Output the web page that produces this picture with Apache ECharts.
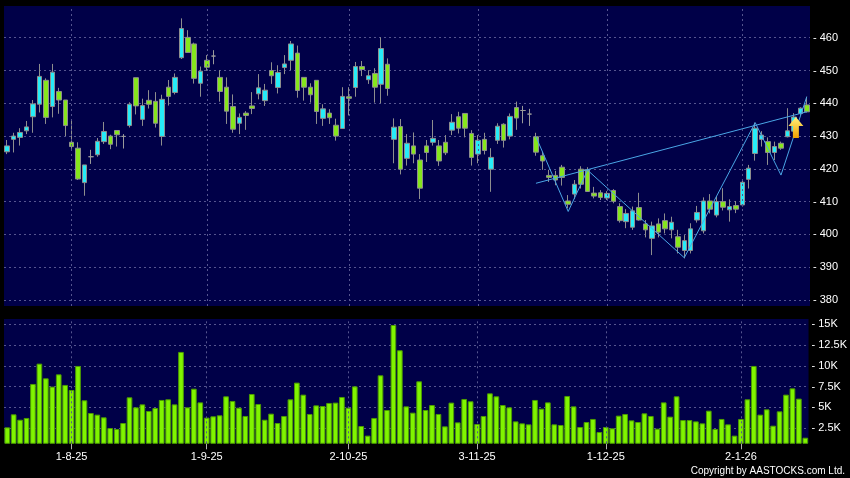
<!DOCTYPE html>
<html>
<head>
<meta charset="utf-8">
<script src="https://cdn.jsdelivr.net/npm/echarts@6/dist/echarts.min.js"></script>
<style>
  html, body { margin: 0; padding: 0; background: #000; }
  #main { width: 850px; height: 478px; }
</style>
</head>
<body>
<div id="main"></div>
<script>
// trading days, d-m-yy
var dates = [
  '18-7-25', '21-7-25', '22-7-25', '23-7-25', '24-7-25', '25-7-25', '28-7-25', '29-7-25', '30-7-25', '31-7-25',
  '1-8-25', '4-8-25', '5-8-25', '6-8-25', '7-8-25', '8-8-25', '11-8-25', '12-8-25', '13-8-25', '14-8-25',
  '15-8-25', '18-8-25', '19-8-25', '20-8-25', '21-8-25', '22-8-25', '25-8-25', '26-8-25', '27-8-25', '28-8-25',
  '29-8-25', '1-9-25', '2-9-25', '3-9-25', '4-9-25', '5-9-25', '8-9-25', '9-9-25', '10-9-25', '11-9-25',
  '12-9-25', '15-9-25', '16-9-25', '17-9-25', '18-9-25', '19-9-25', '22-9-25', '23-9-25', '24-9-25', '25-9-25',
  '26-9-25', '29-9-25', '30-9-25', '2-10-25', '3-10-25', '6-10-25', '8-10-25', '9-10-25', '10-10-25', '13-10-25',
  '14-10-25', '15-10-25', '16-10-25', '17-10-25', '20-10-25', '21-10-25', '22-10-25', '23-10-25', '24-10-25', '27-10-25',
  '28-10-25', '30-10-25', '31-10-25', '3-11-25', '4-11-25', '5-11-25', '6-11-25', '7-11-25', '10-11-25', '11-11-25',
  '12-11-25', '13-11-25', '14-11-25', '17-11-25', '18-11-25', '19-11-25', '20-11-25', '21-11-25', '24-11-25', '25-11-25',
  '26-11-25', '27-11-25', '28-11-25', '1-12-25', '2-12-25', '3-12-25', '4-12-25', '5-12-25', '8-12-25', '9-12-25',
  '10-12-25', '11-12-25', '12-12-25', '15-12-25', '16-12-25', '17-12-25', '18-12-25', '19-12-25', '22-12-25', '23-12-25',
  '24-12-25', '29-12-25', '30-12-25', '31-12-25', '2-1-26', '5-1-26', '6-1-26', '7-1-26', '8-1-26', '9-1-26',
  '12-1-26', '13-1-26', '14-1-26', '15-1-26', '16-1-26'
];

var open = [
  425.2, 429.0, 429.6, 431.6, 435.9, 439.7, 447.0, 439.0, 443.6, 441.0,
  428.1, 426.3, 415.8, 423.7, 424.3, 428.3, 430.0, 431.7, 429.9, 433.2,
  447.8, 435.1, 440.9, 440.6, 429.9, 444.9, 443.3, 453.9, 460.1, 458.1,
  446.1, 453.1, 454.4, 447.9, 444.9, 439.0, 433.9, 437.0, 439.2, 442.9,
  440.8, 450.0, 444.8, 450.9, 453.1, 455.3, 447.9, 444.9, 447.0, 435.4,
  437.0, 433.3, 432.3, 442.0, 444.8, 451.2, 447.2, 449.1, 445.8, 451.9,
  429.0, 432.9, 423.2, 427.0, 422.7, 427.0, 428.1, 427.0, 428.1, 431.8,
  435.9, 436.9, 430.8, 424.5, 429.0, 419.9, 428.7, 433.6, 430.0, 438.7,
  437.8, 436.7, 429.8, 424.0, 418.0, 418.0, 420.5, 410.2, 412.3, 419.9,
  419.7, 412.6, 412.7, 411.1, 413.4, 408.5, 403.9, 402.2, 408.2, 403.2,
  398.8, 403.2, 404.2, 401.4, 399.3, 395.1, 395.1, 404.4, 401.1, 410.2,
  405.9, 410.0, 407.5, 408.8, 409.0, 416.8, 424.7, 429.0, 428.3, 425.0,
  427.8, 429.8, 431.5, 436.9, 439.5
];
var close = [
  427.0, 430.0, 431.1, 432.8, 439.8, 448.2, 435.7, 449.5, 441.0, 433.2,
  426.8, 416.9, 421.2, 423.7, 428.4, 431.4, 427.5, 430.4, 429.9, 439.7,
  439.2, 439.3, 439.7, 433.9, 441.2, 442.1, 447.9, 462.8, 455.5, 447.6,
  449.8, 451.0, 454.4, 443.6, 437.6, 432.1, 435.7, 436.3, 438.4, 444.7,
  444.0, 448.4, 449.4, 452.0, 458.1, 443.9, 444.9, 442.6, 437.5, 438.3,
  435.6, 430.0, 442.1, 441.5, 451.2, 450.3, 448.4, 444.9, 456.7, 444.5,
  432.7, 419.9, 427.8, 424.5, 414.1, 425.0, 429.3, 422.4, 424.9, 434.2,
  432.4, 432.4, 423.5, 428.7, 425.6, 423.5, 433.0, 428.7, 436.0, 435.5,
  437.8, 436.7, 425.1, 422.4, 417.4, 416.6, 417.4, 409.2, 415.3, 415.3,
  413.1, 411.7, 411.3, 412.5, 410.1, 404.2, 406.4, 407.2, 404.4, 401.4,
  402.6, 400.7, 401.7, 403.7, 396.1, 398.1, 401.7, 406.7, 410.2, 407.7,
  410.0, 408.3, 408.5, 407.7, 415.9, 420.2, 432.4, 430.3, 425.0, 426.8,
  426.3, 431.6, 435.8, 438.5, 437.4
];
var low = [
  424.5, 425.0, 427.1, 430.6, 431.0, 437.2, 433.7, 435.7, 436.8, 430.0,
  426.1, 416.6, 411.8, 421.5, 423.7, 427.6, 426.0, 426.8, 426.2, 432.6,
  436.6, 433.1, 438.4, 432.6, 427.1, 439.3, 442.7, 453.5, 455.4, 446.0,
  442.0, 449.9, 451.9, 440.5, 433.7, 431.0, 430.6, 431.9, 436.7, 441.2,
  439.2, 445.9, 443.0, 448.9, 450.1, 441.7, 440.8, 440.2, 433.7, 433.1,
  433.7, 428.6, 432.3, 436.3, 442.0, 448.3, 445.9, 440.2, 440.0, 442.3,
  421.7, 418.3, 421.0, 421.7, 410.8, 422.1, 427.1, 420.9, 424.2, 430.3,
  430.8, 429.6, 421.0, 421.7, 424.4, 413.0, 427.6, 426.5, 429.0, 431.9,
  433.9, 433.1, 424.0, 419.7, 416.0, 415.0, 414.9, 408.0, 410.8, 414.0,
  413.1, 411.0, 410.5, 410.5, 409.5, 403.6, 401.9, 401.4, 404.2, 399.1,
  393.7, 399.1, 400.3, 398.8, 394.2, 392.7, 394.2, 403.6, 400.3, 406.4,
  405.2, 407.3, 403.9, 406.5, 408.5, 414.0, 422.5, 426.8, 421.2, 422.7,
  425.8, 429.6, 430.0, 436.4, 437.2
];
var high = [
  428.8, 431.0, 432.4, 434.6, 441.0, 452.0, 447.6, 452.0, 444.7, 441.0,
  435.2, 428.1, 421.2, 425.8, 429.4, 434.3, 430.4, 431.7, 430.6, 440.3,
  447.8, 441.4, 444.0, 443.4, 442.6, 447.1, 449.1, 465.9, 462.3, 458.5,
  451.2, 454.7, 456.2, 450.1, 447.9, 442.7, 436.9, 437.6, 443.4, 448.9,
  445.9, 452.5, 451.6, 454.7, 459.0, 457.6, 447.9, 446.1, 447.0, 439.7,
  438.2, 435.3, 444.9, 444.9, 452.6, 452.9, 450.1, 450.7, 460.1, 453.7,
  435.4, 435.2, 430.6, 431.1, 424.5, 428.8, 434.9, 428.8, 430.3, 436.7,
  437.4, 436.9, 431.8, 430.3, 431.0, 426.3, 433.9, 433.9, 436.9, 440.5,
  439.2, 438.3, 431.0, 425.2, 419.7, 419.4, 421.2, 412.0, 416.6, 420.8,
  420.5, 414.5, 413.5, 413.2, 413.8, 409.5, 407.7, 408.5, 412.7, 404.4,
  403.9, 404.9, 406.4, 405.4, 401.4, 399.8, 403.4, 408.7, 411.3, 412.3,
  411.7, 414.1, 410.7, 410.2, 416.6, 421.2, 434.1, 431.5, 429.6, 428.3,
  428.3, 438.5, 437.0, 438.8, 442.0
];
var volume = [
  2580, 4150, 3500, 3710, 7810, 10260, 8490, 7490, 8970, 7690,
  7080, 9980, 5840, 4310, 4110, 3790, 2500, 2380, 3100, 6200,
  4990, 5350, 4550, 4910, 5880, 5960, 5350, 11670, 4990, 7240,
  5590, 3750, 3910, 4030, 6320, 5760, 4950, 3950, 6600, 5390,
  3500, 4230, 3100, 3950, 5960, 7970, 6520, 4190, 5230, 5150,
  5520, 5560, 6240, 4950, 7520, 2740, 1580, 3710, 8850, 4670,
  14920, 11870, 5110, 4350, 8130, 4670, 5270, 4190, 2700, 5560,
  3180, 6000, 5720, 2980, 3950, 6680, 6320, 5270, 4990, 3300,
  3060, 2940, 5880, 4830, 5590, 2940, 2860, 6360, 5110, 2620,
  3220, 3590, 2020, 2620, 2460, 3990, 4190, 3420, 3220, 4270,
  3950, 2420, 5590, 3870, 6320, 3460, 3460, 3300, 3060, 4590,
  2380, 3590, 2940, 1580, 3590, 5960, 9980, 4110, 4750, 2780,
  4510, 6520, 7280, 6040, 1330
];

var tickLabels = ['1-8-25', '1-9-25', '2-10-25', '3-11-25', '1-12-25', '2-1-26'];
var priceTicks = [380, 390, 400, 410, 420, 430, 440, 450, 460];
var volTicks = [2500, 5000, 7500, 10000, 12500, 15000];

// pattern lines drawn by the site
var zigzag = [['14-11-25', 429.8], ['21-11-25', 407.0], ['26-11-25', 419.6], ['17-12-25', 392.9],
  ['6-1-26', 434.1], ['12-1-26', 418.1], ['16-1-26', 442.0]];
var neckline = [['14-11-25', 415.6], ['16-1-26', 437.4]];
var arrowAt = ['14-1-26', 432.6];

var chart = echarts.init(document.getElementById('main'));

var candles = dates.map(function (d, i) {
  return [open[i], close[i], low[i], high[i]];
});

var isTick = function (i, v) { return tickLabels.indexOf(v) >= 0; };
var dash = { color: '#55558f', type: [2, 3], width: 1 };
var vLines = {
  silent: true,
  symbol: ['none', 'none'],
  label: { show: false },
  lineStyle: dash,
  animation: false,
  data: tickLabels.map(function (t) { return { xAxis: t }; })
};
var txt = { color: '#ffffff', fontSize: 11, fontFamily: 'Liberation Sans, Arial, sans-serif' };

var option = {
  backgroundColor: '#000000',
  animation: false,
  grid: [
    { left: 4, right: 40, top: 6, height: 300, show: true, backgroundColor: '#000048', borderWidth: 0 },
    { left: 4, right: 40, top: 319, height: 124.3, show: true, backgroundColor: '#000048', borderWidth: 0 }
  ],
  xAxis: [
    {
      type: 'category', gridIndex: 0, data: dates, boundaryGap: true,
      axisLine: { show: false }, axisTick: { show: false }, axisLabel: { show: false }, splitLine: { show: false }
    },
    {
      type: 'category', gridIndex: 1, data: dates, boundaryGap: true,
      axisLine: { show: false },
      axisTick: { show: true, interval: isTick, alignWithLabel: true, length: 6, lineStyle: { color: '#b0b0b0' } },
      axisLabel: Object.assign({ interval: isTick, margin: 8 }, txt),
      splitLine: { show: false }
    }
  ],
  yAxis: [
    {
      type: 'value', gridIndex: 0, position: 'right', min: 378.17, max: 469.67,
      axisLine: { show: false },
      axisTick: { show: false, customValues: priceTicks },
      axisLabel: Object.assign({
        customValues: priceTicks, margin: 3,
        formatter: function (v) { return '- ' + v; }
      }, txt),
      splitLine: { show: true, lineStyle: dash }
    },
    {
      type: 'value', gridIndex: 1, position: 'right', min: 656, max: 15640,
      axisLine: { show: false },
      axisTick: { show: false, customValues: volTicks },
      axisLabel: Object.assign({
        customValues: volTicks, margin: 3,
        formatter: function (v) { return '- ' + (v / 1000) + 'K'; }
      }, txt),
      splitLine: { show: true, lineStyle: dash }
    }
  ],
  series: [
    {
      type: 'candlestick',
      xAxisIndex: 0, yAxisIndex: 0,
      data: candles,
      barWidth: 5,
      itemStyle: {
        color: '#26ecf8', color0: '#86e61c',
        borderColor: '#8e8e8e', borderColor0: '#8e8e8e', borderColorDoji: '#9a9a9a',
        borderWidth: 1
      },
      markLine: vLines,
      markPoint: {
        silent: true,
        label: { show: false },
        data: [{
          coord: arrowAt,
          symbol: 'path://M7.5,0 L15,9 L10.5,9 L10.5,21 L4.5,21 L4.5,9 L0,9 Z',
          symbolSize: [15, 21],
          symbolOffset: [2, 0],
          itemStyle: {
            color: new echarts.graphic.LinearGradient(0, 0, 0, 1, [
              { offset: 0, color: '#fff27a' }, { offset: 1, color: '#f0a000' }
            ])
          }
        }]
      },
      z: 2
    },
    {
      type: 'line', xAxisIndex: 0, yAxisIndex: 0, data: neckline,
      symbol: 'none', silent: true, lineStyle: { color: '#4aa6e6', width: 1 }, z: 3
    },
    {
      type: 'line', xAxisIndex: 0, yAxisIndex: 0, data: zigzag,
      symbol: 'none', silent: true, lineStyle: { color: '#4aa6e6', width: 1 }, z: 3
    },
    {
      type: 'bar',
      xAxisIndex: 1, yAxisIndex: 1,
      data: volume,
      barWidth: '88%',
      itemStyle: { color: '#80f400', borderColor: '#4c9c00', borderWidth: 1 },
      markLine: vLines
    }
  ],
  graphic: [
    {
      type: 'text', right: 5, top: 466,
      style: { text: 'Copyright by AASTOCKS.com Ltd.', fill: '#ffffff', font: '10px "Liberation Sans", Arial, sans-serif' }
    }
  ]
};

chart.setOption(option);
</script>
</body>
</html>
